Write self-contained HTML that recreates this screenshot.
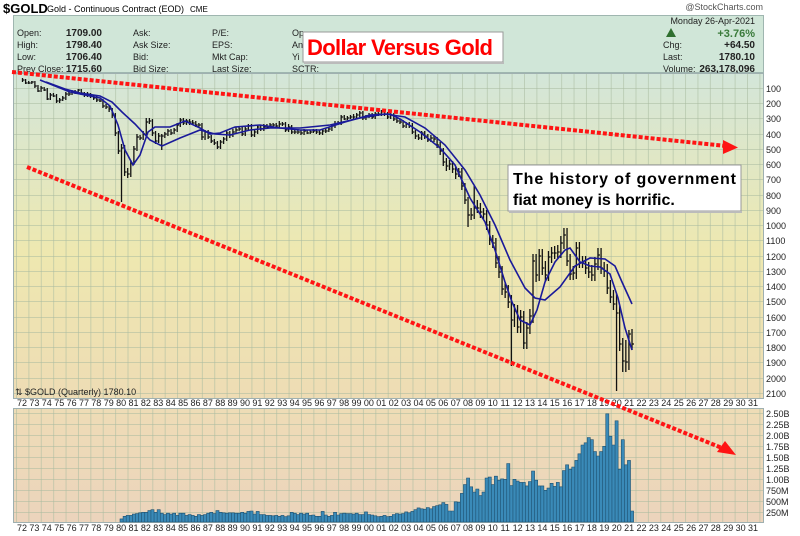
<!DOCTYPE html>
<html><head><meta charset="utf-8"><style>
body{margin:0;background:#fff;width:800px;height:536px;overflow:hidden}
svg{display:block;font-family:"Liberation Sans",Arial,sans-serif}
</style></head><body>
<svg width="800" height="536" viewBox="0 0 800 536" xmlns="http://www.w3.org/2000/svg">
<defs>
<linearGradient id="gm" x1="0" y1="0" x2="0" y2="1">
<stop offset="0" stop-color="#d3e6d9"/><stop offset="0.55" stop-color="#eee8b0"/><stop offset="1" stop-color="#eedcb4"/></linearGradient>
<linearGradient id="gv" x1="0" y1="0" x2="0" y2="1">
<stop offset="0" stop-color="#eedcb6"/><stop offset="1" stop-color="#ecd4bc"/></linearGradient>
<pattern id="vg" x="16" y="0" width="12.39" height="536" patternUnits="userSpaceOnUse"><line x1="0.5" y1="0" x2="0.5" y2="536" stroke="#a9bba0" stroke-width="0.8" opacity="0.7"/></pattern>
</defs>
<text x="3" y="13" font-size="13" font-weight="bold">$GOLD</text>
<text x="47" y="12" font-size="9">Gold - Continuous Contract (EOD)</text>
<text x="190" y="12" font-size="8">CME</text>
<text x="763" y="10" font-size="9" text-anchor="end" fill="#555">@StockCharts.com</text>
<rect x="13.5" y="15.5" width="750" height="57" fill="#d0e6d8" stroke="#9fb6b0"/>
<g font-size="9" fill="#222">
<text x="17" y="36">Open:</text><text x="17" y="48">High:</text><text x="17" y="60">Low:</text><text x="17" y="72">Prev Close:</text>
<g font-weight="bold" font-size="10" text-anchor="end"><text x="102" y="36">1709.00</text><text x="102" y="48">1798.40</text><text x="102" y="60">1706.40</text><text x="102" y="72">1715.60</text></g>
<text x="133" y="36">Ask:</text><text x="133" y="48">Ask Size:</text><text x="133" y="60">Bid:</text><text x="133" y="72">Bid Size:</text>
<text x="212" y="36">P/E:</text><text x="212" y="48">EPS:</text><text x="212" y="60">Mkt Cap:</text><text x="212" y="72">Last Size:</text>
<text x="292" y="36">Op</text><text x="292" y="48">An</text><text x="292" y="60">Yi</text><text x="292" y="72">SCTR:</text>
<text x="755" y="24" text-anchor="end">Monday  26-Apr-2021</text>
<text x="663" y="48">Chg:</text><text x="663" y="60">Last:</text><text x="663" y="72">Volume:</text>
<g font-weight="bold" font-size="10" text-anchor="end"><text x="755" y="37" fill="#3a7a3a" font-size="11">+3.76%</text><text x="755" y="48">+64.50</text><text x="755" y="60">1780.10</text><text x="755" y="72">263,178,096</text></g>
</g>
<polygon points="666,37 676,37 671,28" fill="#2f6f2f"/>
<rect x="13.5" y="73.5" width="750" height="325" fill="url(#gm)" stroke="#9fb0b0"/>
<rect x="13.5" y="408.5" width="750" height="114" fill="url(#gv)" stroke="#9fb0b0"/>
<rect x="14" y="74" width="749" height="324" fill="url(#vg)"/>
<rect x="14" y="409" width="749" height="113" fill="url(#vg)"/>
<g stroke="#a9bba0" stroke-width="0.8" opacity="0.7">
<path d="M14 88.5H763M14 103.5H763M14 118.5H763M14 134.5H763M14 149.5H763M14 164.5H763M14 179.5H763M14 195.5H763M14 210.5H763M14 225.5H763M14 240.5H763M14 256.5H763M14 271.5H763M14 286.5H763M14 301.5H763M14 317.5H763M14 332.5H763M14 347.5H763M14 362.5H763M14 378.5H763M14 393.5H763"/>
<path d="M14 413.5H763M14 424.5H763M14 435.5H763M14 446.5H763M14 457.5H763M14 468.5H763M14 479.5H763M14 490.5H763M14 501.5H763M14 512.5H763"/>
</g>
<g font-size="9" fill="#222">
<text x="766" y="92">100</text><text x="766" y="107">200</text><text x="766" y="122">300</text><text x="766" y="138">400</text><text x="766" y="153">500</text><text x="766" y="168">600</text><text x="766" y="183">700</text><text x="766" y="199">800</text><text x="766" y="214">900</text><text x="766" y="229">1000</text><text x="766" y="244">1100</text><text x="766" y="260">1200</text><text x="766" y="275">1300</text><text x="766" y="290">1400</text><text x="766" y="305">1500</text><text x="766" y="321">1600</text><text x="766" y="336">1700</text><text x="766" y="351">1800</text><text x="766" y="366">1900</text><text x="766" y="382">2000</text><text x="766" y="397">2100</text>
<text x="766" y="417">2.50B</text><text x="766" y="428">2.25B</text><text x="766" y="439">2.00B</text><text x="766" y="450">1.75B</text><text x="766" y="461">1.50B</text><text x="766" y="472">1.25B</text><text x="766" y="483">1.00B</text><text x="766" y="494">750M</text><text x="766" y="505">500M</text><text x="766" y="516">250M</text>
<text x="22" y="406" text-anchor="middle" textLength="740" lengthAdjust="spacing" style="display:none"></text>
</g>
<g font-size="9" fill="#222" text-anchor="middle">
<text y="406"><tspan x="22">72</tspan><tspan x="34.4">73</tspan><tspan x="46.8">74</tspan><tspan x="59.2">75</tspan><tspan x="71.6">76</tspan><tspan x="84">77</tspan><tspan x="96.3">78</tspan><tspan x="108.7">79</tspan><tspan x="121.1">80</tspan><tspan x="133.5">81</tspan><tspan x="145.9">82</tspan><tspan x="158.3">83</tspan><tspan x="170.7">84</tspan><tspan x="183.1">85</tspan><tspan x="195.5">86</tspan><tspan x="207.9">87</tspan><tspan x="220.2">88</tspan><tspan x="232.6">89</tspan><tspan x="245">90</tspan><tspan x="257.4">91</tspan><tspan x="269.8">92</tspan><tspan x="282.2">93</tspan><tspan x="294.6">94</tspan><tspan x="307">95</tspan><tspan x="319.4">96</tspan><tspan x="331.8">97</tspan><tspan x="344.1">98</tspan><tspan x="356.5">99</tspan><tspan x="368.9">00</tspan><tspan x="381.3">01</tspan><tspan x="393.7">02</tspan><tspan x="406.1">03</tspan><tspan x="418.5">04</tspan><tspan x="430.9">05</tspan><tspan x="443.3">06</tspan><tspan x="455.7">07</tspan><tspan x="468">08</tspan><tspan x="480.4">09</tspan><tspan x="492.8">10</tspan><tspan x="505.2">11</tspan><tspan x="517.6">12</tspan><tspan x="530">13</tspan><tspan x="542.4">14</tspan><tspan x="554.8">15</tspan><tspan x="567.2">16</tspan><tspan x="579.6">17</tspan><tspan x="591.9">18</tspan><tspan x="604.3">19</tspan><tspan x="616.7">20</tspan><tspan x="629.1">21</tspan><tspan x="641.5">22</tspan><tspan x="653.9">23</tspan><tspan x="666.3">24</tspan><tspan x="678.7">25</tspan><tspan x="691.1">26</tspan><tspan x="703.5">27</tspan><tspan x="715.8">28</tspan><tspan x="728.2">29</tspan><tspan x="740.6">30</tspan><tspan x="753">31</tspan></text>
<text y="531"><tspan x="22">72</tspan><tspan x="34.4">73</tspan><tspan x="46.8">74</tspan><tspan x="59.2">75</tspan><tspan x="71.6">76</tspan><tspan x="84">77</tspan><tspan x="96.3">78</tspan><tspan x="108.7">79</tspan><tspan x="121.1">80</tspan><tspan x="133.5">81</tspan><tspan x="145.9">82</tspan><tspan x="158.3">83</tspan><tspan x="170.7">84</tspan><tspan x="183.1">85</tspan><tspan x="195.5">86</tspan><tspan x="207.9">87</tspan><tspan x="220.2">88</tspan><tspan x="232.6">89</tspan><tspan x="245">90</tspan><tspan x="257.4">91</tspan><tspan x="269.8">92</tspan><tspan x="282.2">93</tspan><tspan x="294.6">94</tspan><tspan x="307">95</tspan><tspan x="319.4">96</tspan><tspan x="331.8">97</tspan><tspan x="344.1">98</tspan><tspan x="356.5">99</tspan><tspan x="368.9">00</tspan><tspan x="381.3">01</tspan><tspan x="393.7">02</tspan><tspan x="406.1">03</tspan><tspan x="418.5">04</tspan><tspan x="430.9">05</tspan><tspan x="443.3">06</tspan><tspan x="455.7">07</tspan><tspan x="468">08</tspan><tspan x="480.4">09</tspan><tspan x="492.8">10</tspan><tspan x="505.2">11</tspan><tspan x="517.6">12</tspan><tspan x="530">13</tspan><tspan x="542.4">14</tspan><tspan x="554.8">15</tspan><tspan x="567.2">16</tspan><tspan x="579.6">17</tspan><tspan x="591.9">18</tspan><tspan x="604.3">19</tspan><tspan x="616.7">20</tspan><tspan x="629.1">21</tspan><tspan x="641.5">22</tspan><tspan x="653.9">23</tspan><tspan x="666.3">24</tspan><tspan x="678.7">25</tspan><tspan x="691.1">26</tspan><tspan x="703.5">27</tspan><tspan x="715.8">28</tspan><tspan x="728.2">29</tspan><tspan x="740.6">30</tspan><tspan x="753">31</tspan></text>
</g>
<!-- volume -->
<g transform="translate(120 0) scale(3.094 1)">
<path fill="#3a8ab8" stroke="#1d4f6e" stroke-width="0.6" vector-effect="non-scaling-stroke" d="M0 522V518.9h1V522zM1 522V516.3h1V522zM2 522V515.4h1V522zM3 522V515.4h1V522zM4 522V514.1h1V522zM5 522V513.6h1V522zM6 522V512.8h1V522zM7 522V512.3h1V522zM8 522V512.3h1V522zM9 522V510.6h1V522zM10 522V509.7h1V522zM11 522V512.3h1V522zM12 522V509.7h1V522zM13 522V513.2h1V522zM14 522V514.5h1V522zM15 522V513.2h1V522zM16 522V514.1h1V522zM17 522V513.2h1V522zM18 522V515.4h1V522zM19 522V513.2h1V522zM20 522V513.2h1V522zM21 522V515.4h1V522zM22 522V514.5h1V522zM23 522V515.4h1V522zM24 522V516.3h1V522zM25 522V514.5h1V522zM26 522V515.4h1V522zM27 522V514.5h1V522zM28 522V513.2h1V522zM29 522V512.3h1V522zM30 522V513.6h1V522zM31 522V510.6h1V522zM32 522V512.3h1V522zM33 522V512.8h1V522zM34 522V513.2h1V522zM35 522V512.8h1V522zM36 522V512.8h1V522zM37 522V513.2h1V522zM38 522V513.2h1V522zM39 522V512.3h1V522zM40 522V513.2h1V522zM41 522V511.4h1V522zM42 522V511h1V522zM43 522V514.1h1V522zM44 522V511.4h1V522zM45 522V514.5h1V522zM46 522V514.5h1V522zM47 522V515.4h1V522zM48 522V515.4h1V522zM49 522V515.8h1V522zM50 522V515.4h1V522zM51 522V516.3h1V522zM52 522V515.4h1V522zM53 522V516.7h1V522zM54 522V515.8h1V522zM55 522V512.3h1V522zM56 522V513.2h1V522zM57 522V514.5h1V522zM58 522V513.2h1V522zM59 522V514.1h1V522zM60 522V513.2h1V522zM61 522V515.4h1V522zM62 522V515h1V522zM63 522V516.3h1V522zM64 522V516.3h1V522zM65 522V511.4h1V522zM66 522V515h1V522zM67 522V516.3h1V522zM68 522V515.4h1V522zM69 522V512.3h1V522zM70 522V515h1V522zM71 522V513.6h1V522zM72 522V513.2h1V522zM73 522V513.6h1V522zM74 522V513.6h1V522zM75 522V514.1h1V522zM76 522V513.2h1V522zM77 522V514.5h1V522zM78 522V514.5h1V522zM79 522V511.9h1V522zM80 522V514.5h1V522zM81 522V515h1V522zM82 522V515.8h1V522zM83 522V516.7h1V522zM84 522V516.3h1V522zM85 522V515.4h1V522zM86 522V516.7h1V522zM87 522V516.3h1V522zM88 522V514.5h1V522zM89 522V513.6h1V522zM90 522V514.1h1V522zM91 522V513.6h1V522zM92 522V511.9h1V522zM93 522V512.8h1V522zM94 522V511.4h1V522zM95 522V509.7h1V522zM96 522V507.9h1V522zM97 522V508.8h1V522zM98 522V509.2h1V522zM99 522V507.5h1V522zM100 522V508.8h1V522zM101 522V506.6h1V522zM102 522V505.7h1V522zM103 522V504.8h1V522zM104 522V502.6h1V522zM105 522V504.4h1V522zM106 522V511h1V522zM107 522V511h1V522zM108 522V501.8h1V522zM109 522V502.2h1V522zM110 522V493.4h1V522zM111 522V484.6h1V522zM112 522V478h1V522zM113 522V486.8h1V522zM114 522V492.1h1V522zM115 522V489h1V522zM116 522V495.6h1V522zM117 522V492.1h1V522zM118 522V478h1V522zM119 522V477.1h1V522zM120 522V484.6h1V522zM121 522V476.2h1V522zM122 522V480.2h1V522zM123 522V478.9h1V522zM124 522V479.3h1V522zM125 522V463.5h1V522zM126 522V485.5h1V522zM127 522V479.3h1V522zM128 522V481.1h1V522zM129 522V482.4h1V522zM130 522V482.4h1V522zM131 522V485.9h1V522zM132 522V481.5h1V522zM133 522V471h1V522zM134 522V480.2h1V522zM135 522V485.9h1V522zM136 522V485.9h1V522zM137 522V490.3h1V522zM138 522V488.1h1V522zM139 522V483.3h1V522zM140 522V486.4h1V522zM141 522V482.4h1V522zM142 522V486.8h1V522zM143 522V470.5h1V522zM144 522V464.8h1V522zM145 522V469.2h1V522zM146 522V467h1V522zM147 522V460.4h1V522zM148 522V453.8h1V522zM149 522V445h1V522zM150 522V442.8h1V522zM151 522V437.5h1V522zM152 522V439.7h1V522zM153 522V451.6h1V522zM154 522V456h1V522zM155 522V451.6h1V522zM156 522V446.3h1V522zM157 522V413.8h1V522zM158 522V436.2h1V522zM159 522V445h1V522zM160 522V420.8h1V522zM161 522V469.2h1V522zM162 522V439.7h1V522zM163 522V464.8h1V522zM164 522V460.4h1V522zM165 522V511h1V522z"/>
</g>
<!-- price bars -->
<g transform="matrix(0.99806 0 0 1 4.934 0)">
<path fill="none" stroke="#111" stroke-width="1.3" vector-effect="non-scaling-stroke" d="M17.6 78V82M17.6 80h2M20.7 79V84M20.7 83h2M23.8 81V84M23.8 83h2M26.9 81V84M26.9 82h2M30 81V88M30 86h2M33.1 85V92M33.1 91h2M36.2 86V92M36.2 88h2M39.3 87V91M39.3 90h2M42.4 88V100M42.4 99h2M45.5 93V100M45.5 95h2M48.6 93V97M48.6 96h2M51.7 94V103M51.7 101h2M54.8 98V103M54.8 100h2M57.9 96V101M57.9 98h2M61 92V100M61 94h2M64.1 92V96M64.1 94h2M67.2 90V95M67.2 92h2M70.3 90V94M70.3 92h2M73.4 89V93M73.4 90h2M76.5 89V95M76.5 93h2M79.6 92V97M79.6 95h2M82.7 92V97M82.7 94h2M85.8 93V98M85.8 96h2M88.9 95V100M88.9 98h2M92 96V102M92 100h2M95.1 99V102M95.1 101h2M98.2 99V108M98.2 106h2M101.3 104V109M101.3 107h2M104.4 105V112M104.4 109h2M107.5 108V118M107.5 115h2M110.6 113V136M110.6 133h2M113.7 131V154M113.7 151h2M116.8 144V202M116.8 148h2M119.9 145V176M119.9 172h2M123 168V178M123 174h2M126.1 160V177M126.1 163h2M129.2 146V165M129.2 149h2M132.3 134V151M132.3 137h2M135.4 135V140M135.4 138h2M138.5 131V140M138.5 134h2M141.6 118V135M141.6 122h2M144.7 118V124M144.7 121h2M147.8 119V136M147.8 133h2M150.9 131V144M150.9 141h2M154 133V143M154 136h2M157.1 134V150M157.1 136h2M160.2 132V138M160.2 134h2M163.3 129V136M163.3 131h2M166.4 129V135M166.4 133h2M169.5 128V134M169.5 130h2M172.6 123V132M172.6 125h2M175.7 118V127M175.7 120h2M178.8 118V125M178.8 123h2M181.9 119V125M181.9 121h2M185 119V125M185 122h2M188.1 120V125M188.1 123h2M191.2 121V127M191.2 125h2M194.3 123V128M194.3 125h2M197.4 123V140M197.4 137h2M200.5 130V140M200.5 132h2M203.6 130V139M203.6 137h2M206.7 135V143M206.7 141h2M209.8 139V145M209.8 143h2M212.9 141V149M212.9 147h2M216 140V149M216 142h2M219.1 137V144M219.1 139h2M222.2 131V141M222.2 133h2M225.3 131V138M225.3 135h2M228.4 129V137M228.4 132h2M231.5 127V133M231.5 130h2M234.6 126V131M234.6 129h2M237.7 126V136M237.7 134h2M240.8 127V136M240.8 129h2M243.9 124V131M243.9 126h2M247 124V137M247 135h2M250.1 129V137M250.1 132h2M253.2 125V134M253.2 127h2M256.3 125V131M256.3 129h2M259.4 124V131M259.4 127h2M262.5 124V129M262.5 127h2M265.6 123V128M265.6 125h2M268.7 123V127M268.7 125h2M271.8 123V128M271.8 126h2M274.9 121V128M274.9 124h2M278 122V126M278 124h2M281.1 122V132M281.1 130h2M284.2 124V132M284.2 127h2M287.3 125V134M287.3 132h2M290.4 130V134M290.4 132h2M293.5 129V134M293.5 132h2M296.6 130V135M296.6 133h2M299.7 129V135M299.7 131h2M302.8 130V134M302.8 133h2M305.9 130V134M305.9 132h2M309 129V133M309 131h2M312.1 129V134M312.1 132h2M315.2 130V135M315.2 133h2M318.3 129V135M318.3 131h2M321.4 128V133M321.4 131h2M324.5 127V132M324.5 129h2M327.6 124V131M327.6 126h2M330.7 121V128M330.7 124h2M333.8 121V125M333.8 123h2M336.9 115V125M336.9 117h2M340 115V120M340 119h2M343.1 116V120M343.1 118h2M346.2 115V119M346.2 117h2M349.3 114V119M349.3 117h2M352.4 113V118M352.4 115h2M355.5 111V117M355.5 113h2M358.6 111V120M358.6 118h2M361.7 115V120M361.7 117h2M364.8 113V118M364.8 115h2M367.9 113V119M367.9 117h2M371 112V119M371 114h2M374.1 112V116M374.1 114h2M377.2 110V116M377.2 112h2M380.3 110V116M380.3 114h2M383.4 112V119M383.4 117h2M386.5 113V119M386.5 115h2M389.6 113V121M389.6 119h2M392.7 117V123M392.7 121h2M395.8 119V124M395.8 122h2M398.9 120V128M398.9 126h2M402 122V128M402 124h2M405.1 122V128M405.1 126h2M408.2 123V134M408.2 132h2M411.3 130V139M411.3 136h2M414.4 134V140M414.4 138h2M417.5 131V140M417.5 133h2M420.6 131V139M420.6 136h2M423.7 134V142M423.7 140h2M426.8 135V142M426.8 138h2M429.9 136V142M429.9 139h2M433 137V148M433 145h2M436.1 142V155M436.1 151h2M439.2 148V166M439.2 162h2M442.3 158V171M442.3 166h2M445.4 160V170M445.4 164h2M448.5 161V173M448.5 169h2M451.6 166V179M451.6 174h2M454.7 168V177M454.7 172h2M457.8 168V190M457.8 186h2M460.9 183V204M460.9 200h2M464 197V227M464 215h2M467.1 208V220M467.1 215h2M470.2 186V219M470.2 208h2M473.3 200V213M473.3 208h2M476.4 203V218M476.4 212h2M479.5 208V219M479.5 214h2M482.6 210V230M482.6 225h2M485.7 221V245M485.7 240h2M488.8 235V248M488.8 243h2M491.9 238V268M491.9 263h2M495 256V278M495 272h2M498.1 266V295M498.1 289h2M501.2 282V298M501.2 292h2M504.3 285V308M504.3 302h2M507.4 295V366M507.4 320h2M510.5 304V327M510.5 311h2M513.6 305V333M513.6 327h2M516.7 310V333M516.7 317h2M519.8 311V349M519.8 343h2M522.9 322V349M522.9 328h2M526 309V334M526 316h2M529.1 254V323M529.1 261h2M532.2 254V282M532.2 275h2M535.3 249V281M535.3 256h2M538.4 249V275M538.4 268h2M541.5 261V281M541.5 275h2M544.6 251V281M544.6 257h2M547.7 247V263M547.7 253h2M550.8 246V259M550.8 253h2M553.9 245V258M553.9 252h2M557 236V258M557 243h2M560.1 228V249M560.1 235h2M563.2 228V266M563.2 261h2M566.3 254V280M566.3 274h2M569.4 266V280M569.4 273h2M572.5 242V279M572.5 248h2M575.6 242V268M575.6 263h2M578.7 256V268M578.7 262h2M581.8 256V274M581.8 268h2M584.9 262V278M584.9 272h2M588 265V281M588 275h2M591.1 257V281M591.1 264h2M594.2 248V270M594.2 255h2M597.3 248V274M597.3 268h2M600.4 262V277M600.4 271h2M603.5 264V294M603.5 288h2M606.6 280V303M606.6 297h2M609.7 290V310M609.7 304h2M612.8 294V391M612.8 313h2M615.9 306V351M615.9 344h2M619 338V372M619 361h2M622.1 340V372M622.1 362h2M625.2 330V370M625.2 334h2M628.3 329V350M628.3 344h2"/>
</g>
<g fill="none" stroke="#1a1a9a" stroke-width="1.6">
<path d="M40 80L55 86L70 92L85 95L100 98L110 106L118 125L125 150L133 165L140 155L148 132L155 127L170 127L185 121L200 128L210 134L220 133L235 127L260 125L280 128L300 130L320 130L345 122L370 115L390 114L400 119L420 132L440 148L455 165L470 198L485 222L495 250L505 282L512 302L520 320L530 325L537 310L545 282L555 262L565 250L570 248L580 262L590 266L600 267L610 274L618 298L625 328L632 350"/>
<path d="M46 82L65 89L80 93L100 96L112 102L122 112L135 124L150 140L162 146L180 138L200 130L215 134L230 135L250 130L270 128L300 128L330 125L360 118L385 114L405 117L425 128L445 145L465 170L480 195L495 225L510 260L525 288L535 298L545 300L560 287L575 266L590 258L605 259L615 266L622 282L632 304"/>
</g>
<text x="15" y="395" font-size="9" fill="#222">⇅ $GOLD (Quarterly) 1780.10</text>
<line x1="12" y1="72" x2="726" y2="146" stroke="#ff1414" stroke-width="4" stroke-dasharray="4,2"/>
<polygon points="738,147.5 723,140 723,154" fill="#ff1414"/>
<line x1="27" y1="167" x2="722" y2="448" stroke="#ff1414" stroke-width="4" stroke-dasharray="4,2"/>
<polygon points="736,455 717,452 725,441" fill="#ff1414"/>
<rect x="303" y="32" width="200" height="30" fill="#fff" stroke="#999"/>
<line x1="304" y1="63" x2="504" y2="63" stroke="#bbb" stroke-width="2"/>
<text x="307" y="55" font-size="22" font-weight="bold" fill="#ff0000" textLength="186">Dollar Versus Gold</text>
<rect x="508" y="165" width="233" height="46" fill="#fff" stroke="#999"/>
<line x1="509" y1="212" x2="742" y2="212" stroke="#bbb" stroke-width="2"/>
<text x="513" y="184" font-size="16" font-weight="bold" textLength="223">The history of government</text>
<text x="513" y="205" font-size="16" font-weight="bold">fiat money is horrific.</text>
</svg>
</body></html>
